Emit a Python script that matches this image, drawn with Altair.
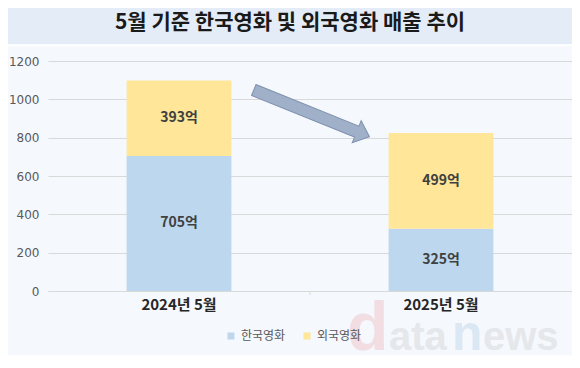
import altair as alt
import pandas as pd

years = ["2024년 5월", "2025년 5월"]
series = ["한국영화", "외국영화"]
korean = [705, 325]
foreign = [393, 499]
y_ticks = [0, 200, 400, 600, 800, 1000, 1200]
title_text = "5월 기준 한국영화 및 외국영화 매출 추이"
colors = ["#bdd7ee", "#ffe699"]

rows = []
for i, yr in enumerate(years):
    rows.append({"year": yr, "series": series[0], "value": korean[i], "ord": 0})
    rows.append({"year": yr, "series": series[1], "value": foreign[i], "ord": 1})
df = pd.DataFrame(rows)
one = pd.DataFrame({"k": [0]})

W, H = 524, 230

xscale = alt.Scale(paddingInner=0.6, paddingOuter=0.3)
xaxis = alt.Axis(labelAngle=0, labelFont="Noto Sans CJK KR", labelFontWeight="bold",
                 labelFontSize=15, labelColor="#262626", labelPadding=6,
                 ticks=False, domainColor="#d9d9d9", domainWidth=1)
yscale = alt.Scale(domain=[0, 1200], nice=False)
yaxis = alt.Axis(values=y_ticks, format="d", labelFont="DejaVu Sans", labelFontSize=12,
                 labelColor="#595959", labelPadding=9, ticks=False, domain=False,
                 labelOverlap=False, gridColor="#d9d9d9", gridWidth=1)

# background bands
band = alt.Chart(one).mark_rect(color="#e4ecf7").encode(
    x=alt.value(-46), x2=alt.value(540), y=alt.value(-58.7), y2=alt.value(-16.7))
bottom_white = alt.Chart(one).mark_rect(color="#ffffff").encode(
    x=alt.value(-46), x2=alt.value(540), y=alt.value(294.3), y2=alt.value(310))
gap_white = alt.Chart(one).mark_rect(color="#ffffff").encode(
    x=alt.value(-46), x2=alt.value(540), y=alt.value(-16.7), y2=alt.value(-14.7))

bars = alt.Chart(df).mark_bar().encode(
    x=alt.X("year:N", sort=years, title=None, scale=xscale, axis=xaxis),
    y=alt.Y("value:Q", stack="zero", scale=yscale, title=None, axis=yaxis),
    color=alt.Color("series:N", scale=alt.Scale(domain=series, range=colors),
                    legend=alt.Legend(title=None, orient="none", legendX=177, legendY=269,
                                      direction="horizontal", symbolType="square",
                                      symbolSize=49, symbolStrokeWidth=0,
                                      labelFont="Noto Sans CJK KR", labelFontSize=12,
                                      labelColor="#595959", labelOffset=4, columnPadding=15)),
    order=alt.Order("ord:Q", sort="ascending"),
)

labels = alt.Chart(df).transform_stack(
    stack="value", groupby=["year"], sort=[alt.SortField("ord", order="ascending")],
    as_=["y0", "y1"]
).transform_calculate(
    mid="(datum.y0 + datum.y1) / 2", lab="datum.value + '억'"
).mark_text(font="Noto Sans CJK KR", fontSize=14, fontWeight="bold", color="#404040",
            baseline="middle").encode(
    x=alt.X("year:N", sort=years, title=None, scale=xscale, axis=xaxis),
    y=alt.Y("mid:Q", scale=yscale, title=None, axis=yaxis),
    text="lab:N",
)

divider = alt.Chart(one).mark_rule(color="#d9d9d9").encode(
    x=alt.value(262), y=alt.value(230), y2=alt.value(234))

arrow_path = "M-1,-0.095 L0.78,-0.095 L0.78,-0.19 L1,0 L0.78,0.19 L0.78,0.095 L-1,0.095 Z"
arrow = alt.Chart(one).mark_point(shape=arrow_path, filled=True, fill="#9fb0c8",
                                  stroke="#7d90ad", strokeWidth=1, opacity=1,
                                  size=15575, angle=22).encode(
    x=alt.value(263.6), y=alt.value(52.4))

title = alt.Chart(one).mark_text(text=title_text, font="Noto Sans CJK KR", fontSize=21,
                                 fontWeight="bold", color="#1a1a1a", align="center",
                                 baseline="middle").encode(
    x=alt.value(242), y=alt.value(-38.5))

wm = []
for txt, xpos, size, col in [("d", 299, 68, "#f2dbe0"), ("ata", 341, 40, "#e4e6ea"),
                             ("n", 404, 50, "#d9e7f4"), ("ews", 435, 40, "#e4e6ea")]:
    wm.append(alt.Chart(one).mark_text(text=txt, font="Liberation Sans", fontSize=size,
                                       fontWeight="bold", color=col, align="left",
                                       baseline="alphabetic", opacity=0.9).encode(
        x=alt.value(xpos), y=alt.value(289.3)))

chart = alt.layer(band, gap_white, bottom_white, bars, labels, divider, arrow, title, *wm).properties(
    width=W, height=H,
    autosize=alt.AutoSizeParams(type="none"),
    padding={"left": 40, "top": 53, "right": 0, "bottom": 69},
).configure(background="#f5f8fd").configure_view(stroke=None)

chart.save("out.html", embed_options={"renderer": "svg", "actions": False})
